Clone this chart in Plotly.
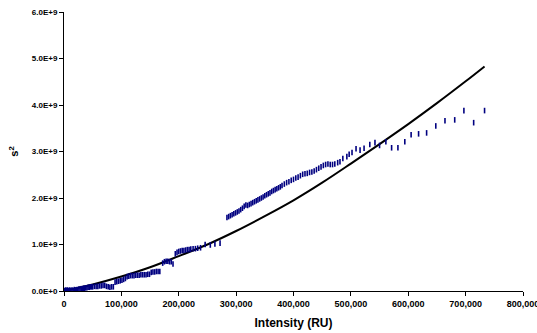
import plotly.graph_objects as go

# Observed data: intensity (thousands of RU) and variance s^2 (units of 1e9)
obs_x_k = [0, 1, 2, 3, 4, 5, 6, 7, 8, 9, 10, 12, 14, 16, 18, 20, 22, 24, 26, 28,
           30, 32, 34, 36, 38, 40, 42, 44, 46, 48, 50, 53, 56, 59, 62, 65, 68, 71, 74, 77,
           80, 83, 86, 89, 92, 95, 98, 101, 104, 107, 110, 113, 116, 119, 122, 125, 128, 131, 134, 137,
           140, 143, 146, 149, 152, 155, 158, 161, 164, 167, 172, 175, 178, 181, 184, 187, 190, 194, 197, 200,
           203, 206, 209, 212, 215, 218, 221, 225, 229, 233, 238, 246, 255, 263, 272,
           284, 287, 290, 293, 296, 299, 302, 305, 308, 311, 314, 317, 320, 323, 326, 329, 332, 335, 338, 341,
           344, 347, 350, 353, 356, 359, 362, 365, 368, 371, 374, 377, 380, 384, 388, 392, 396, 400, 404, 408,
           412, 416, 420, 424, 428, 432, 436, 440, 444, 448, 452, 456, 460, 464, 468, 472, 477, 481, 486, 493,
           497, 502, 509, 516, 523, 533, 542, 550, 561, 571, 582, 594, 605, 618, 632, 648, 664, 681, 697, 714, 733]
obs_y_e9 = [0.00, 0.01, -0.01, 0.02, 0.00, 0.01, 0.02, -0.01, 0.01, 0.00, 0.02, 0.01, 0.02, 0.01, 0.03, 0.02, 0.03, 0.03, 0.04, 0.04,
            0.05, 0.05, 0.06, 0.06, 0.07, 0.07, 0.08, 0.08, 0.09, 0.09, 0.09, 0.10, 0.10, 0.10, 0.11, 0.11, 0.12, 0.12, 0.10, 0.09,
            0.08, 0.09, 0.09, 0.19, 0.20, 0.21, 0.22, 0.23, 0.25, 0.27, 0.31, 0.32, 0.33, 0.33, 0.33, 0.34, 0.34, 0.34, 0.35, 0.35,
            0.35, 0.35, 0.36, 0.36, 0.40, 0.41, 0.41, 0.42, 0.42, 0.42, 0.60, 0.63, 0.64, 0.64, 0.63, 0.63, 0.58, 0.80, 0.83, 0.85,
            0.86, 0.87, 0.87, 0.88, 0.89, 0.89, 0.90, 0.91, 0.91, 0.92, 0.93, 1.00, 0.99, 1.01, 1.03,
            1.58, 1.60, 1.62, 1.64, 1.66, 1.68, 1.70, 1.72, 1.75, 1.78, 1.82, 1.85, 1.84, 1.86, 1.88, 1.90, 1.92, 1.94, 1.96, 1.98,
            2.00, 2.02, 2.05, 2.07, 2.09, 2.11, 2.14, 2.16, 2.18, 2.20, 2.22, 2.24, 2.27, 2.30, 2.33, 2.35, 2.38, 2.40, 2.43, 2.45,
            2.48, 2.51, 2.52, 2.53, 2.55, 2.56, 2.58, 2.61, 2.64, 2.67, 2.70, 2.72, 2.73, 2.72, 2.72, 2.73, 2.76, 2.78, 2.85, 2.89,
            2.94, 2.98, 3.06, 3.03, 3.07, 3.15, 3.19, 3.13, 3.21, 3.08, 3.08, 3.21, 3.36, 3.38, 3.40, 3.55, 3.66, 3.68, 3.88, 3.62, 3.88]

# Fitted curve
fit_x_k = [0, 50, 100, 150, 200, 250, 300, 350, 400, 450, 500, 550, 600, 650, 700, 733]
fit_y_e9 = [0.0, 0.14, 0.31, 0.51, 0.75, 1.00, 1.29, 1.61, 1.95, 2.33, 2.74, 3.16, 3.59, 4.04, 4.51, 4.83]

x_ticks = [0, 100000, 200000, 300000, 400000, 500000, 600000, 700000, 800000]
x_tick_labels = ["0", "100,000", "200,000", "300,000", "400,000", "500,000", "600,000", "700,000", "800,000"]
y_ticks = [0, 1e9, 2e9, 3e9, 4e9, 5e9, 6e9]
y_tick_labels = ["0.0E+0", "1.0E+9", "2.0E+9", "3.0E+9", "4.0E+9", "5.0E+9", "6.0E+9"]

fig = go.Figure()
fig.add_trace(go.Scatter(
    x=[v * 1000 for v in fit_x_k], y=[v * 1e9 for v in fit_y_e9],
    mode="lines", line=dict(color="black", width=2, shape="spline"),
    showlegend=False, hoverinfo="skip"))
fig.add_trace(go.Scatter(
    x=[v * 1000 for v in obs_x_k], y=[v * 1e9 for v in obs_y_e9],
    mode="markers",
    marker=dict(symbol="line-ns", size=4, color="#000080",
                line=dict(color="#000080", width=1.6)),
    showlegend=False))

font_family = "Liberation Sans, Arial, sans-serif"
fig.update_layout(
    width=537, height=333,
    margin=dict(l=64, r=14, t=12, b=42, autoexpand=False),
    paper_bgcolor="white", plot_bgcolor="white",
    font=dict(family=font_family, color="black"),
    xaxis=dict(range=[0, 800000], tickvals=x_ticks, ticktext=x_tick_labels,
               automargin=False, ticklabeloverflow="allow",
               showgrid=False, zeroline=False, showline=True, linecolor="black", linewidth=1,
               ticks="outside", ticklen=4, tickcolor="black",
               tickfont=dict(size=9, family=font_family, weight="bold"),
               title=dict(text="<b>Intensity (RU)</b>", font=dict(size=12, family=font_family), standoff=10)),
    yaxis=dict(range=[0, 6e9], tickvals=y_ticks, ticktext=y_tick_labels,
               automargin=False, ticklabeloverflow="allow",
               showgrid=False, zeroline=False, showline=True, linecolor="black", linewidth=1,
               ticks="outside", ticklen=4, tickcolor="black",
               tickfont=dict(size=8, family=font_family, weight="bold"),
               title=dict(text="<b>s<sup>2</sup></b>", font=dict(size=11, family=font_family), standoff=10)),
)
fig.write_html("out.html", config={"displayModeBar": False},
               post_script="document.body.style.margin='0';document.body.style.overflow='hidden';")
